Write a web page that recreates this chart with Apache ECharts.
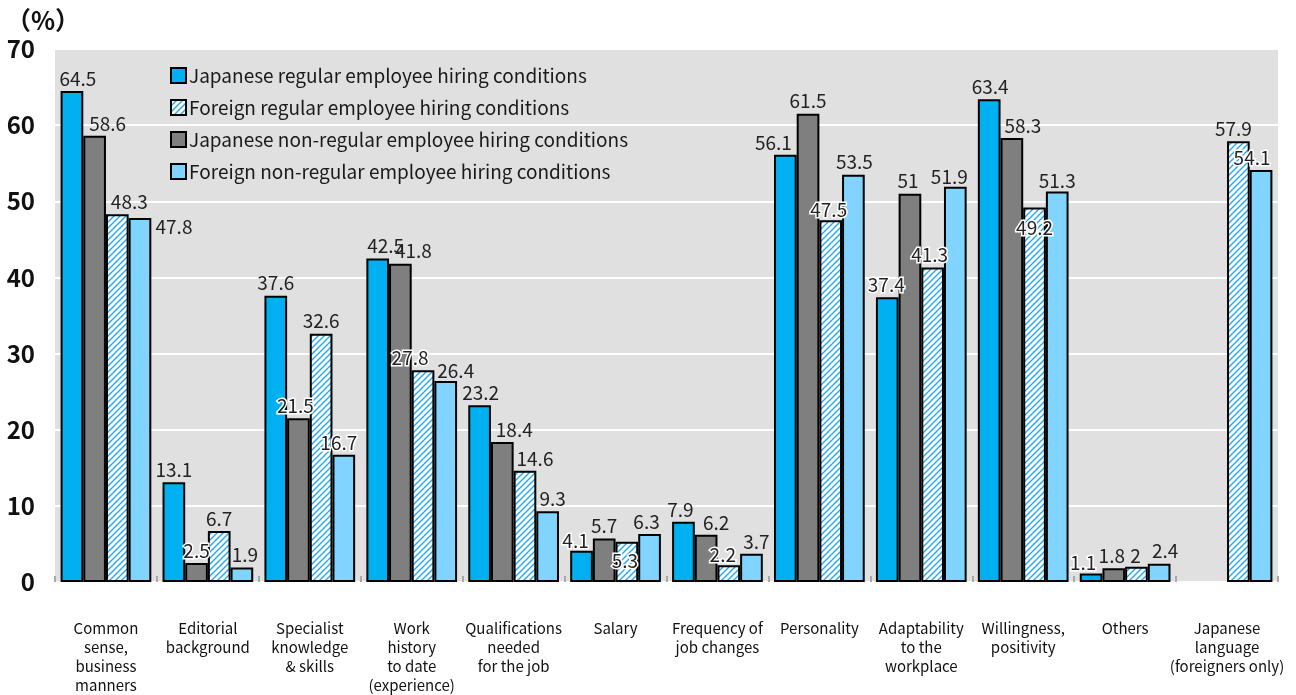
<!DOCTYPE html>
<html>
<head>
<meta charset="utf-8">
<script src="https://cdn.jsdelivr.net/npm/echarts@6/dist/echarts.min.js"></script>
<style>
  html, body { margin: 0; padding: 0; background: #fff; }
  #chart { width: 1296px; height: 695px; }
</style>
</head>
<body>
<div id="chart"></div>
<script>
// Hiring conditions emphasised, by employee type (%)
const categories = [
  'Common\nsense,\nbusiness\nmanners',
  'Editorial\nbackground',
  'Specialist\nknowledge\n& skills',
  'Work\nhistory\nto date\n(experience)',
  'Qualifications\nneeded\nfor the job',
  'Salary',
  'Frequency of\njob changes',
  'Personality',
  'Adaptability\nto the\nworkplace',
  'Willingness,\npositivity',
  'Others',
  'Japanese\nlanguage\n(foreigners only)'
];

const japaneseRegular    = [64.5, 13.1, 37.6, 42.5, 23.2, 4.1, 7.9, 56.1, 37.4, 63.4, 1.1, null];
const japaneseNonRegular = [58.6, 2.5, 21.5, 41.8, 18.4, 5.7, 6.2, 61.5, 51, 58.3, 1.8, null];
const foreignRegular     = [48.3, 6.7, 32.6, 27.8, 14.6, 5.3, 2.2, 47.5, 41.3, 49.2, 2, 57.9];
const foreignNonRegular  = [47.8, 1.9, 16.7, 26.4, 9.3, 6.3, 3.7, 53.5, 51.9, 51.3, 2.4, 54.1];

const seriesNames = [
  'Japanese regular employee hiring conditions',
  'Japanese non-regular employee hiring conditions',
  'Foreign regular employee hiring conditions',
  'Foreign non-regular employee hiring conditions'
];
const legendOrder = [seriesNames[0], seriesNames[2], seriesNames[1], seriesNames[3]];

const yTicks = { min: 0, max: 70, interval: 10 };

const FONT = "'Noto Sans CJK JP', 'Noto Sans', sans-serif";

// Value-label nudges: key "series,category" -> [dx, dy, whiteHalo]
const labelNudge = {
  '0,0': [6, 0], '1,0': [13, 0], '2,0': [12, 0], '3,0': [34, 21],
  '0,1': [0, 0], '1,1': [0, 0, 1], '2,1': [0, 0], '3,1': [3, 0],
  '0,2': [0, 0], '1,2': [-3, 0, 1], '2,2': [0, 0], '3,2': [-5, 0, 1],
  '0,3': [8, 0], '1,3': [13, 0], '2,3': [-13, 0, 1], '3,3': [10, 2],
  '0,4': [1, 0], '1,4': [12, 0], '2,4': [10, 0], '3,4': [5, 0],
  '0,5': [-6, 2, 1], '1,5': [0, 0], '2,5': [-2, 32, 1], '3,5': [-3, 0],
  '0,6': [-3, 0], '1,6': [10, 0], '2,6': [-6, 2, 1], '3,6': [5, 0],
  '0,7': [-12, 0], '1,7': [0, 0], '2,7': [-2, 2, 1], '3,7': [1, 0],
  '0,8': [-1, 0, 1], '1,8': [-2, 0], '2,8': [-3, 0, 1], '3,8': [-6, 2],
  '0,9': [1, 0], '1,9': [11, 0], '2,9': [0, 33, 1], '3,9': [0, 2],
  '0,10': [-8, 2, 1], '1,10': [-2, 0], '2,10': [-1, 2], '3,10': [6, 0],
  '2,11': [-5, 0], '3,11': [-9, 0, 1]
};

// Diagonal hatch tile for the foreign regular series
function hatchTile() {
  const s = 6;
  const c = document.createElement('canvas');
  c.width = s; c.height = s;
  const g = c.getContext('2d');
  g.fillStyle = '#ffffff';
  g.fillRect(0, 0, s, s);
  g.strokeStyle = '#22a8ee';
  g.lineWidth = 1.4;
  g.beginPath();
  g.moveTo(-1, s + 1); g.lineTo(s + 1, -1);
  g.moveTo(-1, 1); g.lineTo(1, -1);
  g.moveTo(s - 1, s + 1); g.lineTo(s + 1, s - 1);
  g.stroke();
  return c;
}

const fills = ['#00b0f0', '#7f7f7f', { image: hatchTile(), repeat: 'repeat' }, '#80d4ff'];
const values = [japaneseRegular, japaneseNonRegular, foreignRegular, foreignNonRegular];

function buildData(si) {
  return values[si].map((v, ci) => {
    const n = labelNudge[si + ',' + ci] || [0, 0];
    const item = { value: v, label: { offset: [n[0], n[1]] } };
    if (n[2]) {
      item.label.textBorderColor = '#ffffff';
      item.label.textBorderWidth = 3;
    }
    return item;
  });
}

const chart = echarts.init(document.getElementById('chart'), null, { renderer: 'canvas' });

chart.setOption({
  animation: false,
  textStyle: { fontFamily: FONT },
  grid: {
    left: 55, right: 18, top: 49, bottom: 112,
    show: true, backgroundColor: '#e0e0e0', borderWidth: 0
  },
  legend: {
    data: legendOrder,
    orient: 'vertical',
    left: 170, top: 66,
    itemWidth: 15, itemHeight: 15, itemGap: 13,
    icon: 'rect',
    padding: 0,
    textStyle: { fontSize: 19, color: '#1a1a1a', fontFamily: FONT, padding: [0, 0, 0, -2] }
  },
  graphic: [{
    type: 'text', left: 6, top: 8,
    style: { text: '（%）', fontSize: 25, fontWeight: 'bold', fill: '#111', fontFamily: FONT }
  }],
  xAxis: {
    type: 'category',
    data: categories,
    axisLine: { show: false },
    axisTick: { show: true, inside: true, length: 6, lineStyle: { color: '#a8a8a8', width: 2 } },
    axisLabel: {
      interval: 0, margin: 37, fontSize: 15, lineHeight: 19, color: '#111',
      fontFamily: FONT, align: 'center'
    },
    splitLine: { show: false }
  },
  yAxis: {
    type: 'value',
    min: yTicks.min, max: yTicks.max, interval: yTicks.interval,
    axisLine: { show: false },
    axisTick: { show: false },
    axisLabel: { margin: 20, fontSize: 24, fontWeight: 'bold', color: '#111', fontFamily: FONT },
    splitLine: { lineStyle: { color: '#ffffff', width: 2 } }
  },
  series: seriesNames.map((name, si) => ({
    name,
    type: 'bar',
    data: buildData(si),
    barGap: '0%',
    barCategoryGap: '11%',
    itemStyle: { color: fills[si], borderColor: '#000', borderWidth: 2 },
    label: {
      show: true, position: 'top', distance: 3,
      fontSize: 19, color: '#222', fontFamily: FONT
    }
  }))
});
</script>
</body>
</html>
